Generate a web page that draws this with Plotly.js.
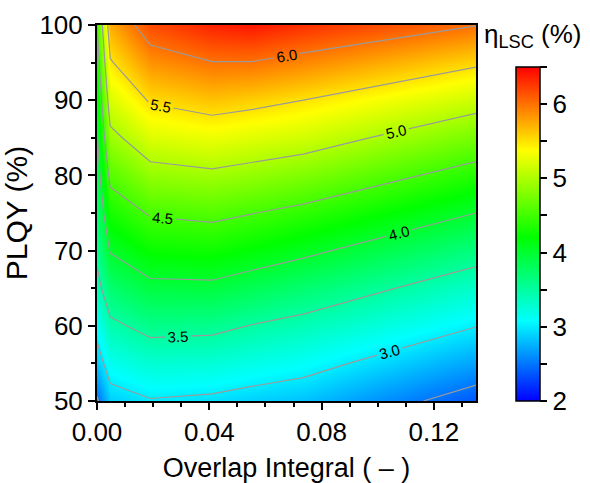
<!DOCTYPE html>
<html>
<head>
<meta charset="utf-8">
<script src="https://cdn.plot.ly/plotly-3.0.1.min.js"></script>
<style>html,body{margin:0;padding:0;background:#fff;}#chart{width:590px;height:483px;}</style>
</head>
<body>
<div id="chart"></div>
<script>
// Overlap integral grid (x) and PLQY grid (y)
const overlapIntegral = [0, 0.0047, 0.019, 0.041, 0.055, 0.0735, 0.135];
const plqy = [50, 55, 60, 65, 70, 75, 80, 85, 90, 95, 100];
// eta_LSC (%) : one row per PLQY value, one column per overlap integral
const etaRow50  = [2.45, 2.87, 2.98, 2.94, 2.88, 2.82, 2.36];
const etaRow55  = [2.85, 3.15, 3.28, 3.26, 3.19, 3.11, 2.69];
const etaRow60  = [3.11, 3.43, 3.60, 3.58, 3.49, 3.40, 3.01];
const etaRow65  = [3.39, 3.72, 3.92, 3.93, 3.84, 3.72, 3.31];
const etaRow70  = [3.58, 4.02, 4.23, 4.26, 4.18, 4.07, 3.64];
const etaRow75  = [3.70, 4.30, 4.53, 4.58, 4.51, 4.41, 4.00];
const etaRow80  = [3.83, 4.59, 4.88, 4.94, 4.88, 4.79, 4.36];
const etaRow85  = [3.96, 4.91, 5.21, 5.29, 5.23, 5.16, 4.74];
const etaRow90  = [4.12, 5.20, 5.53, 5.64, 5.59, 5.50, 5.14];
const etaRow95  = [4.31, 5.47, 5.85, 5.99, 5.99, 5.90, 5.55];
const etaRow100 = [4.50, 5.74, 6.17, 6.35, 6.40, 6.29, 6.01];
const etaLSC = [etaRow50, etaRow55, etaRow60, etaRow65, etaRow70, etaRow75,
                etaRow80, etaRow85, etaRow90, etaRow95, etaRow100];

const xTickVals = [0, 0.04, 0.08, 0.12];
const xTickText = ['0.00', '0.04', '0.08', '0.12'];
const yTickVals = [50, 60, 70, 80, 90, 100];
const cbTickVals = [2, 2.5, 3, 3.5, 4, 4.5, 5, 5.5, 6, 6.5];
const cbTickText = ['2', ' ', '3', ' ', '4', ' ', '5', ' ', '6', ' '];

const jet = [
  [0, 'rgb(0,0,255)'],
  [0.24, 'rgb(0,255,255)'],
  [0.49, 'rgb(0,255,0)'],
  [0.75, 'rgb(255,255,0)'],
  [1, 'rgb(255,0,0)']
];

const FONT = 'Liberation Sans, Arial, sans-serif';

const heat = {
  type: 'heatmap',
  x: overlapIntegral, y: plqy, z: etaLSC,
  zsmooth: 'best',
  zmin: 2, zmax: 6.5,
  colorscale: jet,
  hoverinfo: 'skip',
  colorbar: {
    x: 1.1055, xanchor: 'left', xpad: 0,
    y: 0, yanchor: 'bottom', ypad: 0,
    len: 0.888, lenmode: 'fraction',
    thickness: 24, thicknessmode: 'pixels',
    outlinecolor: 'black', outlinewidth: 1.5,
    ticks: 'outside', ticklen: 7, tickwidth: 2, tickcolor: 'black',
    tickvals: cbTickVals, ticktext: cbTickText,
    tickfont: {family: FONT, size: 26, color: 'black'}
  }
};

const lines = {
  type: 'contour',
  x: overlapIntegral, y: plqy, z: etaLSC,
  showscale: false,
  hoverinfo: 'skip',
  contours: {
    coloring: 'none', start: 2.5, end: 6.0, size: 0.5,
    showlabels: true, labelformat: '.1f',
    labelfont: {family: FONT, size: 15, color: 'black'}
  },
  line: {color: '#9a9a9a', width: 1.2, smoothing: 0}
};

const layout = {
  width: 590, height: 483,
  margin: {l: 97, r: 114, t: 25, b: 82},
  paper_bgcolor: 'white', plot_bgcolor: 'white',
  showlegend: false,
  font: {family: FONT, color: 'black'},
  xaxis: {
    range: [0, 0.135], showgrid: false, zeroline: false,
    showline: true, linecolor: 'black', linewidth: 2, mirror: true,
    ticks: 'outside', ticklen: 7, tickwidth: 2, tickcolor: 'black',
    tickvals: xTickVals, ticktext: xTickText,
    tickfont: {family: FONT, size: 26, color: 'black'},
    minor: {dtick: 0.01, tick0: 0, ticks: 'outside', ticklen: 4, tickwidth: 2, tickcolor: 'black'},
    title: {text: 'Overlap Integral ( \u2013 )', font: {family: FONT, size: 27, color: 'black'}, standoff: 12}
  },
  yaxis: {
    range: [50, 100], showgrid: false, zeroline: false,
    showline: true, linecolor: 'black', linewidth: 2, mirror: true,
    ticks: 'outside', ticklen: 7, tickwidth: 2, tickcolor: 'black',
    tickvals: yTickVals,
    tickfont: {family: FONT, size: 26, color: 'black'},
    minor: {dtick: 5, tick0: 50, ticks: 'outside', ticklen: 4, tickwidth: 2, tickcolor: 'black'},
    title: {text: 'PLQY (%)', font: {family: FONT, size: 30, color: 'black'}, standoff: 8}
  },
  annotations: [{
    xref: 'paper', yref: 'paper', x: 1.015, y: 0.972, xanchor: 'left', yanchor: 'middle',
    showarrow: false,
    text: '\u03b7<sub>LSC</sub> (%)',
    font: {family: FONT, size: 26, color: 'black'}
  }]
};

Plotly.newPlot('chart', [heat, lines], layout, {displayModeBar: false, staticPlot: true});
</script>
</body>
</html>
